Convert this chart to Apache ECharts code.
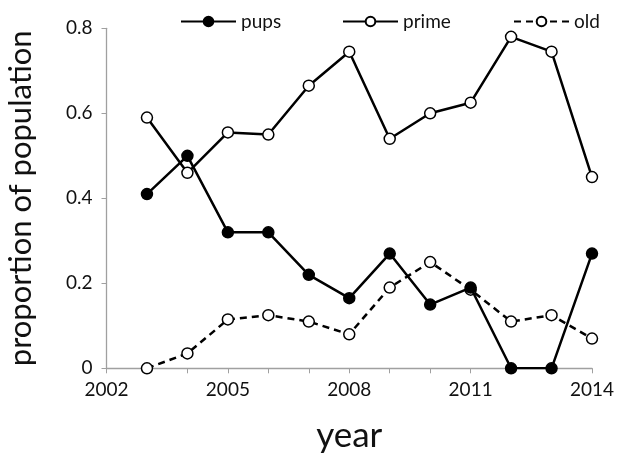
<!DOCTYPE html>
<html>
<head>
<meta charset="utf-8">
<script src="https://cdn.jsdelivr.net/npm/echarts@6/dist/echarts.min.js"></script>
<style>html,body{margin:0;padding:0;background:#fff}#c{width:620px;height:458px}</style>
</head>
<body>
<div id="c"></div>
<script>
const years = [2003,2004,2005,2006,2007,2008,2009,2010,2011,2012,2013,2014];
const pups  = [0.41,0.50,0.32,0.32,0.22,0.165,0.27,0.15,0.19,0,0,0.27];
const prime = [0.59,0.46,0.555,0.55,0.665,0.745,0.54,0.60,0.625,0.78,0.745,0.45];
const old   = [0,0.035,0.115,0.125,0.11,0.08,0.19,0.25,0.185,0.11,0.125,0.07];
const xTickLabels = [2002,2005,2008,2011,2014];
const yTickLabels = [0,0.2,0.4,0.6,0.8];

const FONT = 'Lato';
const toPairs = arr => years.map((y,i)=>[y,arr[i]]);
const chart = echarts.init(document.getElementById('c'), null, {renderer:'canvas'});
const baseSeries = (name, data, filled, dashed) => ({
  name, type:'line', data: toPairs(data),
  symbol:'circle', symbolSize:11,
  lineStyle:{color:'#000', width:2.5, type: dashed ? [7,5] : 'solid'},
  itemStyle:{color: filled ? '#000' : '#fff', borderColor:'#000', borderWidth:1.5},
  emphasis:{disabled:true},
  animation:false, z: filled ? 3 : 2
});
const legendBase = {
  top: 7, itemWidth:55, itemHeight:12,
  textStyle:{fontFamily:FONT, fontSize:19, color:'#111'}, selectedMode:false
};
chart.setOption({
  backgroundColor:'#fff',
  animation:false,
  legend:[
    Object.assign({}, legendBase, {left:175, data:['pups']}),
    Object.assign({}, legendBase, {left:337, data:['prime']}),
    Object.assign({}, legendBase, {left:508, data:['old']})
  ],
  grid:{left:106.5, right:28, top:28.3, bottom:89.7, containLabel:false, outerBoundsMode:'none'},
  xAxis:{
    type:'value', min:2002, max:2014, interval:1,
    name:'year', nameLocation:'middle', nameGap:50,
    nameTextStyle:{fontFamily:FONT, fontSize:35, color:'#111'},
    axisLine:{lineStyle:{color:'#a0a0a0', width:1.3}},
    axisTick:{show:true, length:5, lineStyle:{color:'#a0a0a0'}},
    axisLabel:{fontFamily:FONT, fontSize:19, color:'#111', margin:12,
      formatter: v => xTickLabels.includes(v) ? String(v) : ''},
    splitLine:{show:false}
  },
  yAxis:{
    type:'value', min:0, max:0.8, interval:0.2,
    name:'proportion of population', nameLocation:'middle', nameGap:70,
    nameTextStyle:{fontFamily:FONT, fontSize:31, color:'#111'},
    axisLine:{show:true, lineStyle:{color:'#a0a0a0', width:1.3}},
    axisTick:{show:true, length:5, lineStyle:{color:'#a0a0a0'}},
    axisLabel:{fontFamily:FONT, fontSize:19, color:'#111', margin:14,
      formatter: v => { const t = yTickLabels.find(k=>Math.abs(k-v)<1e-9); return t===undefined ? '' : String(t); }},
    splitLine:{show:false}
  },
  series:[
    baseSeries('pups', pups, true, false),
    baseSeries('prime', prime, false, false),
    baseSeries('old', old, false, true)
  ]
});
</script>
</body>
</html>
